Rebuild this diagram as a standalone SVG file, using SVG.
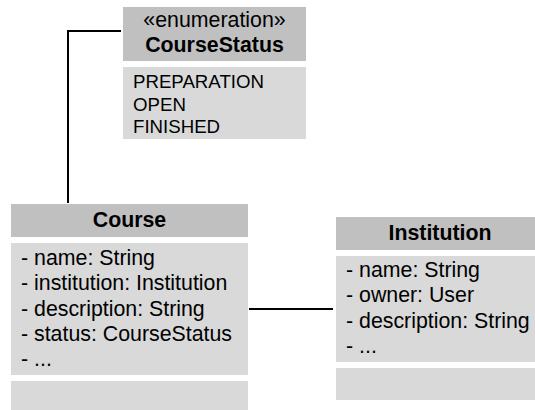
<svg xmlns="http://www.w3.org/2000/svg" width="535" height="410" viewBox="0 0 535 410">
  <style>
    .hdr { fill: #c0c0c0; }
    .body { fill: #d9d9d9; }
    text { font-family: "Liberation Sans", Arial, sans-serif; fill: #000; }
    .title { font-size: 21.33px; font-weight: bold; text-anchor: middle; }
    .stereo { font-size: 21.33px; text-anchor: middle; }
    .attr { font-size: 21.33px; }
    .lit { font-size: 18.67px; }
    .conn { fill: none; stroke: #000; stroke-width: 2; }
  </style>
  <rect width="535" height="410" fill="#fff"/>

  <g id="connectors">
    <polyline class="conn" points="121,31 68,31 68,203"/>
    <line class="conn" x1="249" y1="309" x2="333" y2="309"/>
  </g>

  <g id="CourseStatus">
    <rect class="hdr" x="123" y="7" width="183" height="54"/>
    <text class="stereo" x="214.5" y="27">«enumeration»</text>
    <text class="title" x="214.5" y="52">CourseStatus</text>
    <rect class="body" x="123" y="67" width="183" height="72"/>
    <text class="lit" x="133" y="88">PREPARATION</text>
    <text class="lit" x="133" y="110.5">OPEN</text>
    <text class="lit" x="133" y="133">FINISHED</text>
  </g>

  <g id="Course">
    <rect class="hdr" x="11" y="204" width="237" height="33"/>
    <text class="title" x="129.5" y="227">Course</text>
    <rect class="body" x="11" y="243" width="237" height="132"/>
    <text class="attr" x="21" y="265">- name: String</text>
    <text class="attr" x="21" y="290.3">- institution: Institution</text>
    <text class="attr" x="21" y="315.6">- description: String</text>
    <text class="attr" x="21" y="341">- status: CourseStatus</text>
    <text class="attr" x="21" y="366">- ...</text>
    <rect class="body" x="11" y="381" width="237" height="35"/>
  </g>

  <g id="Institution">
    <rect class="hdr" x="336" y="217" width="208" height="33"/>
    <text class="title" x="440" y="240">Institution</text>
    <rect class="body" x="336" y="256" width="208" height="106"/>
    <text class="attr" x="346" y="277">- name: String</text>
    <text class="attr" x="346" y="302.3">- owner: User</text>
    <text class="attr" x="346" y="327.6">- description: String</text>
    <text class="attr" x="346" y="353">- ...</text>
    <rect class="body" x="336" y="368" width="208" height="32"/>
  </g>
</svg>
